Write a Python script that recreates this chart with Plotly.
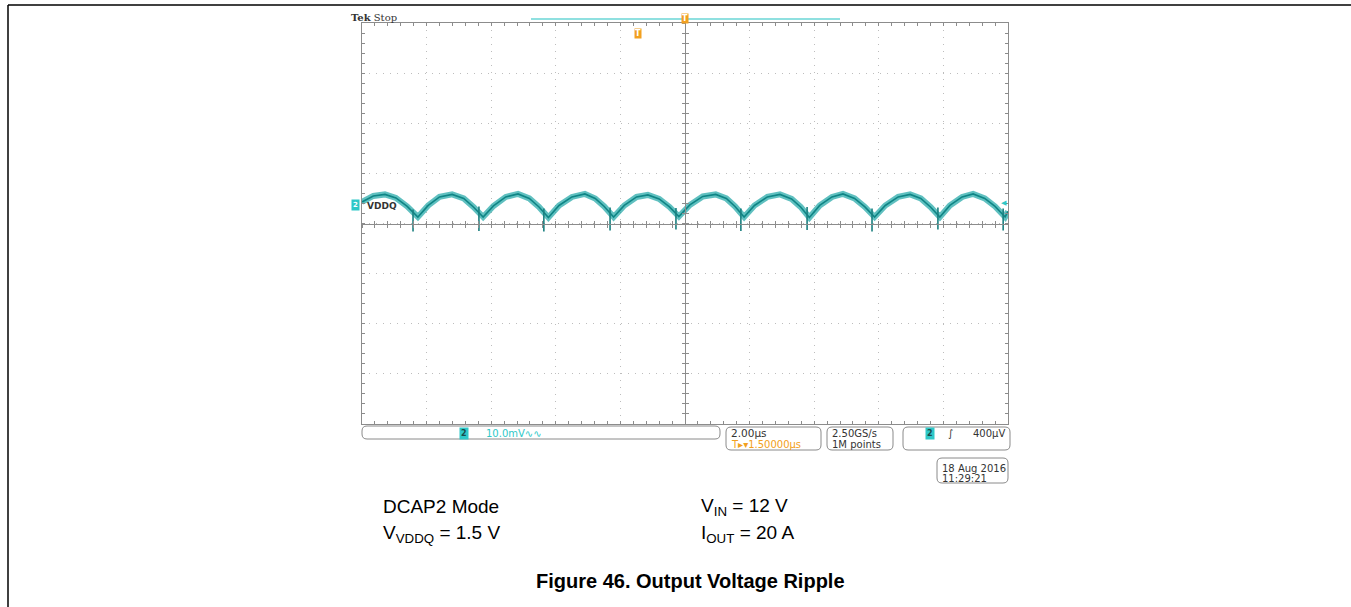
import plotly.graph_objects as go

# ---------------- data ----------------
# time in microseconds relative to trigger (2 us/div), voltage in mV (10 mV/div, screen centre = 0)
time_us = [-10.00, -9.65, -9.29, -8.95, -8.60, -8.27,
           -7.95, -7.60, -7.21, -6.85, -6.55, -6.25,
           -5.93, -5.55, -5.17, -4.82, -4.52, -4.23,
           -3.90, -3.50, -3.10, -2.78, -2.50, -2.21,
           -1.88, -1.50, -1.15, -0.80, -0.48, -0.19,
           0.15, 0.55, 0.95, 1.28, 1.55, 1.83,
           2.15, 2.55, 2.94, 3.30, 3.58, 3.85,
           4.17, 4.55, 4.89, 5.25, 5.57, 5.87,
           6.20, 6.60, 6.97, 7.30, 7.60, 7.89,
           8.20, 8.58, 8.92, 9.28, 9.60, 9.91, 10.00]
ripple_mV = [4.3, 5.5, 5.8, 5.1, 3.4, 1.3,
             3.6, 5.3, 5.8, 5.0, 3.3, 1.3,
             3.5, 5.3, 5.9, 5.0, 3.3, 1.2,
             3.6, 5.3, 5.9, 5.0, 3.4, 1.3,
             3.6, 5.3, 5.7, 4.9, 3.3, 1.4,
             3.7, 5.4, 5.8, 5.0, 3.4, 1.3,
             3.6, 5.3, 5.8, 4.9, 3.3, 1.2,
             3.6, 5.3, 5.9, 5.0, 3.3, 1.3,
             3.6, 5.3, 5.8, 5.0, 3.3, 1.3,
             3.6, 5.3, 5.9, 5.0, 3.4, 1.3, 2.4]
# switching spikes at the valleys
spike_t = [-8.42, -6.38, -4.37, -2.32, -0.28, 1.73, 3.78, 5.79, 7.83, 9.85]
spike_lo = [-1.6, -1.5, -1.6, -1.4, -1.2, -1.5, -1.3, -1.6, -1.2, -1.4]
spike_hi = [2.8, 3.4, 3.0, 3.2, 3.1, 3.0, 3.3, 3.0, 3.2, 3.0]

x_range = [-10, 10]
y_range = [-40, 40]

# ---------------- geometry helpers (page pixels; body margin removed) ----------------
W, H = 1351, 607
L, R, T, B = 362, 1008, 23, 424


def px(x):
    return (x - L) / (R - L)


def py(y):
    return (B - y) / (B - T)


def rrect(x0, y0, x1, y1, r=4):
    rx, ry = r / (R - L), r / (B - T)
    a, b, c, d = px(x0), py(y1), px(x1), py(y0)
    return (f"M {a+rx},{b} L {c-rx},{b} Q {c},{b} {c},{b+ry} L {c},{d-ry} "
            f"Q {c},{d} {c-rx},{d} L {a+rx},{d} Q {a},{d} {a},{d-ry} "
            f"L {a},{b+ry} Q {a},{b} {a+rx},{b} Z")


FRAME = "#8c8c8c"
CYAN = "#2ec8c8"
ORANGE = "#f2a020"
TEXT = "#333333"

fig = go.Figure()

# noise band + core trace
fig.add_trace(go.Scatter(x=time_us, y=ripple_mV, mode="lines",
                         line=dict(color="rgba(28,165,165,0.7)", width=6),
                         hoverinfo="skip", showlegend=False))
fig.add_trace(go.Scatter(x=time_us, y=ripple_mV, mode="lines",
                         line=dict(color="#0f8585", width=1.6),
                         hoverinfo="skip", showlegend=False))
sx, sy = [], []
for t, lo, hi in zip(spike_t, spike_lo, spike_hi):
    sx += [t, t, None]
    sy += [hi, lo, None]
fig.add_trace(go.Scatter(x=sx, y=sy, mode="lines",
                         line=dict(color="#1a7f7f", width=1.6),
                         hoverinfo="skip", showlegend=False))

# helper traces so the centre-line tick axes are drawn
for xa, ya in [("x2", "y"), ("x3", "y"), ("x", "y2"), ("x", "y3")]:
    fig.add_trace(go.Scatter(x=[None], y=[None], xaxis=xa, yaxis=ya,
                             showlegend=False, hoverinfo="skip"))

common = dict(showticklabels=False, zeroline=False, fixedrange=True)
fig.update_layout(
    width=W, height=H,
    margin=dict(l=L, r=W - R, t=T, b=H - B),
    paper_bgcolor="white", plot_bgcolor="white",
    font=dict(family="Liberation Sans, Arial, sans-serif", color=TEXT),
    xaxis=dict(range=x_range, dtick=2, tick0=0, showgrid=True, gridcolor="#bdbdbd",
               griddash="1px,6px", gridwidth=1, ticks="inside", ticklen=3, tickcolor=FRAME,
               showline=True, linecolor=FRAME, linewidth=1, mirror="ticks",
               minor=dict(dtick=0.4, ticks="inside", ticklen=3, tickcolor=FRAME, showgrid=False),
               **common),
    yaxis=dict(range=y_range, dtick=10, tick0=0, showgrid=True, gridcolor="#bdbdbd",
               griddash="1px,6px", gridwidth=1, ticks="inside", ticklen=3, tickcolor=FRAME,
               showline=True, linecolor=FRAME, linewidth=1, mirror="ticks",
               minor=dict(dtick=2, ticks="inside", ticklen=3, tickcolor=FRAME, showgrid=False),
               **common),
    xaxis2=dict(range=x_range, overlaying="x", anchor="free", position=0.5, side="bottom",
                showline=True, linecolor=FRAME, dtick=0.4, ticks="outside", ticklen=3,
                tickcolor=FRAME, showgrid=False, **common),
    xaxis3=dict(range=x_range, overlaying="x", anchor="free", position=0.5, side="bottom",
                showline=False, dtick=0.4, ticks="inside", ticklen=3,
                tickcolor=FRAME, showgrid=False, **common),
    yaxis2=dict(range=y_range, overlaying="y", anchor="free", position=0.5, side="left",
                showline=True, linecolor=FRAME, dtick=2, ticks="outside", ticklen=3,
                tickcolor=FRAME, showgrid=False, **common),
    yaxis3=dict(range=y_range, overlaying="y", anchor="free", position=0.5, side="left",
                showline=False, dtick=2, ticks="inside", ticklen=3,
                tickcolor=FRAME, showgrid=False, **common),
)

shapes = []
# outer page border (left and top visible)
shapes.append(dict(type="line", xref="paper", yref="paper", x0=px(8), x1=px(8), y0=py(5), y1=py(620),
                   line=dict(color="black", width=1.5)))
shapes.append(dict(type="line", xref="paper", yref="paper", x0=px(8), x1=px(1360), y0=py(5), y1=py(5),
                   line=dict(color="black", width=1.5)))
# record view bar at top
shapes.append(dict(type="line", xref="paper", yref="paper", x0=px(531), x1=px(840), y0=py(19), y1=py(19),
                   line=dict(color="#8fe0e0", width=2)))
# status boxes
for (x0, y0, x1, y1) in [(362, 426, 720, 439), (726, 427, 821, 450), (827, 427, 893, 450),
                         (903, 427, 1010, 450), (937, 458, 1008, 483)]:
    shapes.append(dict(type="path", xref="paper", yref="paper", path=rrect(x0, y0, x1, y1, 5),
                       line=dict(color="#8a8a8a", width=1)))
fig.update_layout(shapes=shapes)

ann = []


def add(x, y, text, size=11, color=TEXT, xanchor="left", **kw):
    fam = kw.pop("family", "DejaVu Sans, sans-serif")
    ann.append(dict(x=px(x), y=py(y), xref="paper", yref="paper", text=text, showarrow=False,
                    xanchor=xanchor, yanchor="middle",
                    font=dict(size=size, color=color, family=fam), **kw))


add(349, 17, "<b>Tek</b> Stop", size=10, family="DejaVu Serif, serif")
# trigger markers
add(685, 19, "<b>T</b>", size=8, color="white", xanchor="center", bgcolor=ORANGE, borderpad=0)
add(638, 33, "<b>T</b>", size=8, color="white", xanchor="center", bgcolor=ORANGE, borderpad=0)
# channel marker and label
add(355, 205, "<b>2</b>", size=7, color="white", xanchor="center", bgcolor=CYAN, borderpad=1)
add(365, 206, "<b>VDDQ</b>", size=9, color=TEXT)
add(1004, 203, "◀", size=7, color=CYAN, xanchor="center")
# status bar texts
add(464, 433, "<b>2</b>", size=8, color="#1a4a4a", xanchor="center", bgcolor=CYAN, borderpad=1)
add(484, 433, "10.0mV\u223f\u223f", size=10, color=CYAN)
add(729, 433, "2.00µs", size=10.5, color=TEXT)
add(729, 444, "T\u25b8\u25be1.50000µs", size=10, color=ORANGE)
add(830, 433, "2.50GS/s", size=10, color=TEXT)
add(830, 444, "1M points", size=10, color=TEXT)
add(930, 433, "<b>2</b>", size=8, color="#1a4a4a", xanchor="center", bgcolor=CYAN, borderpad=1)
add(950, 433, "\u222b", size=10, color=TEXT, xanchor="center")
add(1007, 433, "400µV", size=10, color=TEXT, xanchor="right")
add(940, 468, "18 Aug 2016", size=10, color=TEXT)
add(940, 478, "11:29:21", size=10, color=TEXT)
# test conditions
arial = "Liberation Sans, Arial, sans-serif"
add(381, 507, "DCAP2 Mode", size=19, color="black", family=arial)
add(381, 534, "V<sub>VDDQ</sub> = 1.5 V", size=19, color="black", family=arial)
add(699, 507, "V<sub>IN</sub> = 12 V", size=19, color="black", family=arial)
add(699, 534, "I<sub>OUT</sub> = 20 A", size=19, color="black", family=arial)
add(690, 581, "<b>Figure 46. Output Voltage Ripple</b>", size=20, color="black", xanchor="center",
    family=arial)
fig.update_layout(annotations=ann)

fig.write_html("out.html", config={"displayModeBar": False},
               post_script="document.body.style.margin='0';document.body.style.overflow='hidden';")
